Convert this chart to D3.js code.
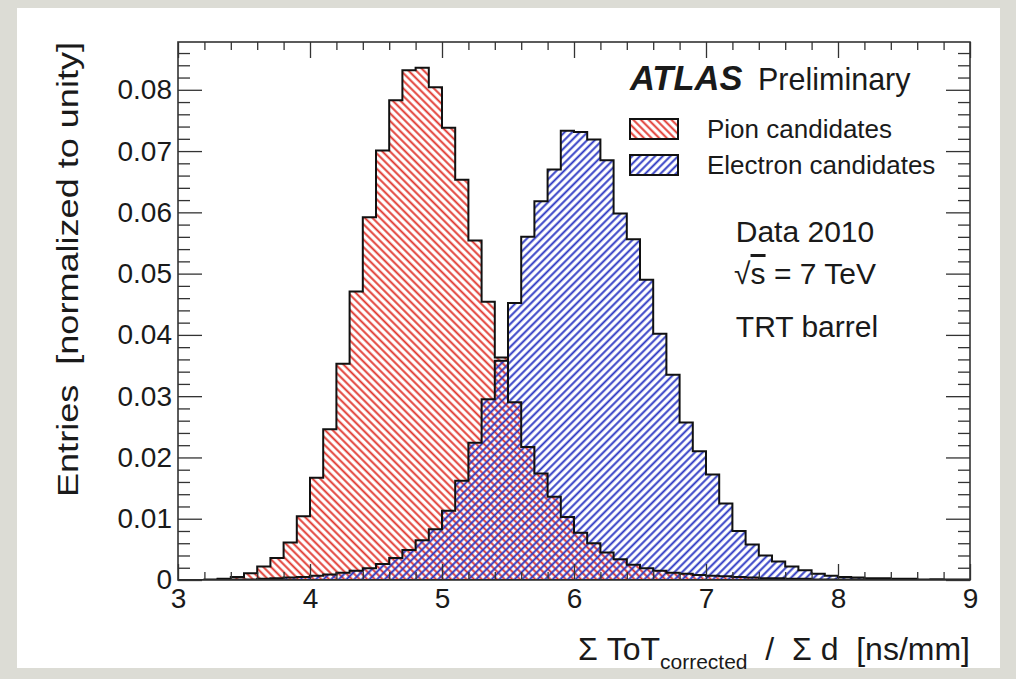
<!DOCTYPE html>
<html>
<head>
<meta charset="utf-8">
<script src="https://cdn.jsdelivr.net/npm/d3@7"></script>
<style>
  html, body { margin: 0; padding: 0; background: #dcdcd5; }
  svg { display: block; }
  text { font-family: "Liberation Sans", Arial, Helvetica, sans-serif; fill: #1a1a1a; }
</style>
</head>
<body>
<svg id="chart" width="1016" height="679"></svg>
<script>
// ---------- data ----------
const binEdges = [3.0,3.1,3.2,3.3,3.4,3.5,3.6,3.7,3.8,3.9,4.0,4.1,4.2,4.3,4.4,4.5,4.6,4.7,4.8,4.9,
  5.0,5.1,5.2,5.3,5.4,5.5,5.6,5.7,5.8,5.9,6.0,6.1,6.2,6.3,6.4,6.5,6.6,6.7,6.8,6.9,
  7.0,7.1,7.2,7.3,7.4,7.5,7.6,7.7,7.8,7.9,8.0,8.1,8.2,8.3,8.4,8.5,8.6,8.7,8.8,8.9,9.0];

const pionValues = [0,0,0.0001,0.0002,0.0005,0.0011,0.0022,0.0036,0.0061,0.0104,
  0.0167,0.0246,0.0353,0.0471,0.0592,0.0701,0.0783,0.0832,0.0836,0.0804,
  0.0738,0.0653,0.0554,0.0454,0.0363,0.0290,0.0217,0.0174,0.0136,0.0103,
  0.0077,0.0060,0.0045,0.0034,0.0025,0.0019,0.0015,0.0012,0.0010,0.0008,
  0.0007,0.0006,0.0005,0.0004,0.0003,0.0003,0.0002,0.0002,0.0001,0.0001,
  0.0001,0.0001,0.0001,0.0001,0.0001,0.0001,0,0.0001,0,0];

const electronValues = [0,0,0,0.0001,0.0001,0.0001,0.0002,0.0003,0.0004,0.0005,
  0.0007,0.0009,0.0012,0.0015,0.0019,0.0026,0.0036,0.0049,0.0065,0.0083,
  0.0113,0.0162,0.0224,0.0295,0.0358,0.0452,0.0560,0.0618,0.0670,0.0733,
  0.0731,0.0719,0.0685,0.0598,0.0556,0.0490,0.0402,0.0335,0.0257,0.0210,
  0.0172,0.0125,0.0080,0.0058,0.0040,0.0030,0.0022,0.0016,0.0010,0.0007,
  0.0005,0.0004,0.0003,0.0003,0.0002,0.0002,0.0001,0.0001,0.0001,0.0001];

const xMajorTicks = [3,4,5,6,7,8,9];
const xTickLabels = ["3","4","5","6","7","8","9"];
const yMajorTicks = [0,0.01,0.02,0.03,0.04,0.05,0.06,0.07,0.08];
const yTickLabels = ["0","0.01","0.02","0.03","0.04","0.05","0.06","0.07","0.08"];
const xDomain = [3, 9];
const yDomain = [0, 0.0878];

const seriesNames = ["Pion candidates", "Electron candidates"];
const infoLines = ["Data 2010", "TRT barrel"];

// ---------- layout ----------
const svg = d3.select("#chart");
const W = 1016, H = 679;
const L = 178, R = 970, T = 42, B = 580;
const red = "#e0362d", blue = "#2a36c2";
const axisCol = "#333";

svg.append("rect").attr("x", 0).attr("y", 0).attr("width", W).attr("height", H).attr("fill", "#dcdcd5");
svg.append("rect").attr("x", 17).attr("y", 8).attr("width", 983).attr("height", 660).attr("fill", "#ffffff");

const x = d3.scaleLinear().domain(xDomain).range([L, R]);
const y = d3.scaleLinear().domain(yDomain).range([B, T]);

// hatch patterns
const defs = svg.append("defs");
function hatch(id, color, angle) {
  const p = defs.append("pattern").attr("id", id)
    .attr("patternUnits", "userSpaceOnUse")
    .attr("width", 5.4).attr("height", 10)
    .attr("patternTransform", `rotate(${angle})`);
  p.append("line").attr("x1", 1.3).attr("y1", -1).attr("x2", 1.3).attr("y2", 11)
    .attr("stroke", color).attr("stroke-width", 1.9);
}
hatch("hatchRed", red, -45);
hatch("hatchBlue", blue, 45);

svg.append("clipPath").attr("id", "plotClip").append("rect")
  .attr("x", L).attr("y", T).attr("width", R - L).attr("height", B - T);

function stepPath(values) {
  const p = d3.path();
  p.moveTo(x(binEdges[0]), y(0));
  values.forEach((v, i) => {
    p.lineTo(x(binEdges[i]), y(v));
    p.lineTo(x(binEdges[i + 1]), y(v));
  });
  p.lineTo(x(binEdges[binEdges.length - 1]), y(0));
  p.closePath();
  return p.toString();
}

const plot = svg.append("g").attr("clip-path", "url(#plotClip)");
plot.append("path").attr("d", stepPath(pionValues)).attr("fill", "url(#hatchRed)").attr("stroke", "none");
plot.append("path").attr("d", stepPath(electronValues)).attr("fill", "url(#hatchBlue)").attr("stroke", "none");
plot.append("path").attr("d", stepPath(pionValues)).attr("fill", "none").attr("stroke", "#111").attr("stroke-width", 2).attr("stroke-linejoin", "miter");
plot.append("path").attr("d", stepPath(electronValues)).attr("fill", "none").attr("stroke", "#111").attr("stroke-width", 2).attr("stroke-linejoin", "miter");

// ---------- axes ----------
const xMinor = d3.range(3, 9.0001, 0.2).filter(v => Math.abs(v - Math.round(v)) > 1e-6);
const yMinor = d3.range(0, 0.0878, 0.002).filter(v => Math.abs(v * 100 - Math.round(v * 100)) > 1e-6);

function styleAxis(g) {
  g.select(".domain").remove();
  g.selectAll(".tick line").attr("stroke", axisCol).attr("stroke-width", 1.3);
}

const tickFont = "28px";

// bottom
svg.append("g").attr("transform", `translate(0,${B})`)
  .call(d3.axisBottom(x).tickValues(xMajorTicks).tickSize(-16).tickPadding(8)
    .tickFormat((d, i) => xTickLabels[i]))
  .call(styleAxis)
  .call(g => g.selectAll("text").attr("font-size", tickFont).attr("font-family", "Liberation Sans, Arial, sans-serif").attr("fill", "#1a1a1a").attr("dy", "0.72em"));
svg.append("g").attr("transform", `translate(0,${B})`)
  .call(d3.axisBottom(x).tickValues(xMinor).tickSize(-8).tickFormat(""))
  .call(styleAxis);
// top
svg.append("g").attr("transform", `translate(0,${T})`)
  .call(d3.axisTop(x).tickValues(xMajorTicks).tickSize(-16).tickFormat(""))
  .call(styleAxis);
svg.append("g").attr("transform", `translate(0,${T})`)
  .call(d3.axisTop(x).tickValues(xMinor).tickSize(-8).tickFormat(""))
  .call(styleAxis);
// left
svg.append("g").attr("transform", `translate(${L},0)`)
  .call(d3.axisLeft(y).tickValues(yMajorTicks).tickSize(-24).tickPadding(6)
    .tickFormat((d, i) => yTickLabels[i]))
  .call(styleAxis)
  .call(g => g.selectAll("text").attr("font-size", tickFont).attr("font-family", "Liberation Sans, Arial, sans-serif").attr("fill", "#1a1a1a"));
svg.append("g").attr("transform", `translate(${L},0)`)
  .call(d3.axisLeft(y).tickValues(yMinor).tickSize(-12).tickFormat(""))
  .call(styleAxis);
// right
svg.append("g").attr("transform", `translate(${R},0)`)
  .call(d3.axisRight(y).tickValues(yMajorTicks).tickSize(-24).tickFormat(""))
  .call(styleAxis);
svg.append("g").attr("transform", `translate(${R},0)`)
  .call(d3.axisRight(y).tickValues(yMinor).tickSize(-12).tickFormat(""))
  .call(styleAxis);

// frame
svg.append("rect").attr("x", L).attr("y", T).attr("width", R - L).attr("height", B - T)
  .attr("fill", "none").attr("stroke", axisCol).attr("stroke-width", 1.6);

// ---------- titles ----------
svg.append("text")
  .attr("transform", `translate(78,${T}) rotate(-90)`)
  .attr("text-anchor", "end")
  .attr("font-size", "29px")
  .attr("textLength", 455)
  .attr("lengthAdjust", "spacingAndGlyphs")
  .style("white-space", "pre")
  .text("Entries  [normalized to unity]");

const xt = svg.append("text")
  .attr("x", R).attr("y", 660)
  .attr("text-anchor", "end")
  .attr("font-size", "32px")
  .style("white-space", "pre");
xt.append("tspan").text("\u03A3 ToT");
xt.append("tspan").attr("font-size", "21px").attr("dy", 9).text("corrected");
xt.append("tspan").attr("dy", -9).text("  /  \u03A3 d  [ns/mm]");

// ---------- labels ----------
svg.append("text").attr("x", 630).attr("y", 90)
  .attr("font-size", "34.5px").attr("font-weight", "bold").attr("font-style", "italic")
  .text("ATLAS");
svg.append("text").attr("x", 758).attr("y", 90)
  .attr("font-size", "30.5px").text("Preliminary");

// legend
const legY = [119, 155];
const legFill = ["url(#hatchRed)", "url(#hatchBlue)"];
seriesNames.forEach((name, i) => {
  svg.append("rect").attr("x", 630).attr("y", legY[i]).attr("width", 48).attr("height", 20)
    .attr("fill", legFill[i]).attr("stroke", "#111").attr("stroke-width", 2);
  svg.append("text").attr("x", 707).attr("y", legY[i] + 19)
    .attr("font-size", "26px").text(name);
});

svg.append("text").attr("x", 805).attr("y", 242).attr("text-anchor", "middle")
  .attr("font-size", "30px").text(infoLines[0]);
const sq = svg.append("text").attr("x", 805).attr("y", 284).attr("text-anchor", "middle")
  .attr("font-size", "30px").style("white-space", "pre");
sq.append("tspan").text("\u221A");
sq.append("tspan").style("text-decoration", "overline").text("s");
sq.append("tspan").text(" = 7 TeV");
svg.append("text").attr("x", 807).attr("y", 337).attr("text-anchor", "middle")
  .attr("font-size", "30px").text(infoLines[1]);
</script>
</body>
</html>
